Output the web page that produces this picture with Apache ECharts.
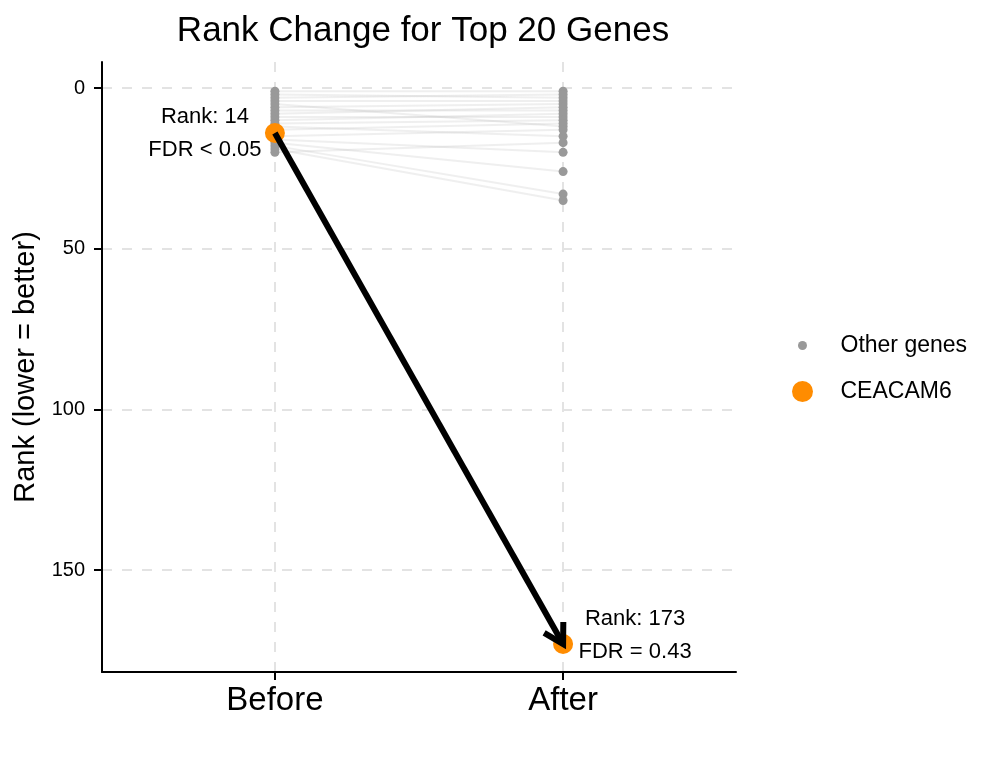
<!DOCTYPE html>
<html>
<head>
<meta charset="utf-8">
<script src="https://cdn.jsdelivr.net/npm/echarts@6/dist/echarts.min.js"></script>
<style>html,body{margin:0;padding:0;background:#fff;}#chart{width:998px;height:768px;}</style>
</head>
<body>
<div id="chart"></div>
<script>
// ---- data ----
const categories = ['Before', 'After'];
const otherBefore = [1, 2, 3, 4, 5, 6, 7, 8, 9, 10, 11, 12, 13, 15, 16, 17, 18, 19, 20];
const otherAfter  = [1, 3, 2, 4, 12, 5, 7, 6, 9, 8, 10, 15, 11, 13, 20, 26, 33, 35, 17];
const ceacamRank = [14, 173];
const ceacamFdr = ['FDR < 0.05', 'FDR = 0.43'];
const yTicks = [0, 50, 100, 150];

const FONT = 'Liberation Sans';
const chart = echarts.init(document.getElementById('chart'));

const lineSeries = otherBefore.map((b, i) => ({
  type: 'line',
  name: 'link' + i,
  data: [[1, b], [2, otherAfter[i]]],
  symbol: 'none',
  silent: true,
  z: 1,
  lineStyle: { color: 'rgba(190,190,190,0.25)', width: 2 }
}));

const otherPoints = otherBefore.map(b => [1, b]).concat(otherAfter.map(a => [2, a]));

const ceacamPoints = ceacamRank.map((r, i) => ({
  value: [i + 1, r],
  label: {
    show: true,
    position: 'inside',
    formatter: 'Rank: ' + r + '\n' + ceacamFdr[i],
    offset: i === 0 ? [-70, 0] : [72, -9],
    fontFamily: FONT,
    fontSize: 22,
    lineHeight: 33,
    color: '#000',
    align: 'center'
  }
}));

const option = {
  animation: false,
  backgroundColor: '#fff',
  title: {
    text: 'Rank Change for Top 20 Genes',
    left: 418,
    textAlign: 'center',
    top: 9,
    textStyle: { fontFamily: FONT, fontSize: 35, fontWeight: 'normal', color: '#000' }
  },
  legend: [
    {
      data: ['Other genes'],
      orient: 'vertical',
      left: 793, top: 329,
      itemWidth: 66, itemHeight: 9,
      icon: 'circle',
      textStyle: { fontFamily: FONT, fontSize: 23, color: '#000' },
      selectedMode: false
    },
    {
      data: ['CEACAM6'],
      orient: 'vertical',
      left: 787, top: 375,
      itemWidth: 66, itemHeight: 21,
      icon: 'circle',
      textStyle: { fontFamily: FONT, fontSize: 23, color: '#000' },
      selectedMode: false
    }
  ],
  grid: { left: 102, right: 262, top: 62, bottom: 96, containLabel: false },
  xAxis: {
    type: 'value',
    min: 0.4, max: 2.6,
    axisLine: { show: true, onZero: false, lineStyle: { color: '#000', width: 2 } },
    axisTick: { show: true, customValues: [1, 2], length: 8, lineStyle: { color: '#000', width: 2 } },
    axisLabel: {
      customValues: [1, 2],
      formatter: v => categories[Math.round(v) - 1],
      fontFamily: FONT, fontSize: 33, color: '#000', margin: 12
    },
    splitLine: { show: true, lineStyle: { color: '#e3e3e3', width: 2, type: [10, 10] } }
  },
  yAxis: {
    type: 'value',
    inverse: true,
    min: -8.1, max: 181.7,
    name: 'Rank (lower = better)',
    nameLocation: 'middle',
    nameGap: 54,
    nameTextStyle: { fontFamily: FONT, fontSize: 29, color: '#000' },
    axisLine: { show: true, onZero: false, lineStyle: { color: '#000', width: 2 } },
    axisTick: { show: true, customValues: yTicks, length: 8, lineStyle: { color: '#000', width: 2 } },
    axisLabel: { customValues: yTicks, fontFamily: FONT, fontSize: 20, color: '#000', margin: 17 },
    splitLine: { show: true, lineStyle: { color: '#e3e3e3', width: 2, type: [10, 10] } }
  },
  series: lineSeries.concat([
    {
      type: 'scatter',
      name: 'Other genes',
      data: otherPoints,
      symbolSize: 9,
      itemStyle: { color: '#999999', opacity: 1 },
      z: 2
    },
    {
      type: 'scatter',
      name: 'CEACAM6',
      data: ceacamPoints,
      symbolSize: 20,
      itemStyle: { color: '#FF8C00', opacity: 1 },
      z: 3
    },
    {
      type: 'custom',
      name: 'arrow',
      z: 5,
      silent: true,
      data: [[1, ceacamRank[0], 2, ceacamRank[1]]],
      renderItem: function (params, api) {
        const p1 = api.coord([api.value(0), api.value(1)]);
        const p2 = api.coord([api.value(2), api.value(3)]);
        const ang = Math.atan2(p1[1] - p2[1], p1[0] - p2[0]);
        const L = 22, a = Math.PI / 6;
        const h1 = [p2[0] + L * Math.cos(ang + a), p2[1] + L * Math.sin(ang + a)];
        const h2 = [p2[0] + L * Math.cos(ang - a), p2[1] + L * Math.sin(ang - a)];
        const style = { stroke: '#000', lineWidth: 6, fill: null, lineCap: 'butt', lineJoin: 'miter' };
        return {
          type: 'group',
          children: [
            { type: 'line', shape: { x1: p1[0], y1: p1[1], x2: p2[0], y2: p2[1] }, style: style },
            { type: 'polyline', shape: { points: [h1, p2, h2] }, style: style }
          ]
        };
      }
    }
  ])
};
chart.setOption(option);
</script>
</body>
</html>
